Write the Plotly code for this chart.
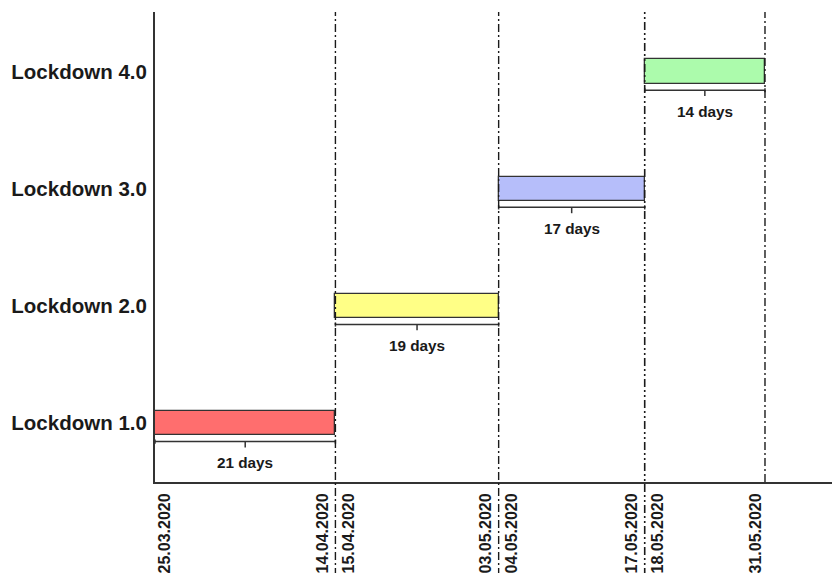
import plotly.graph_objects as go

# ---- data ----
phases = ["Lockdown 1.0", "Lockdown 2.0", "Lockdown 3.0", "Lockdown 4.0"]
durations = [21, 19, 17, 14]
start_dates = ["25.03.2020", "15.04.2020", "04.05.2020", "18.05.2020"]
end_dates = ["14.04.2020", "03.05.2020", "17.05.2020", "31.05.2020"]
duration_labels = ["21 days", "19 days", "17 days", "14 days"]
colors = ["#FF6E6E", "#FFFF86", "#B6BEFA", "#ACFBAC"]

# cumulative positions (day scale)
starts = []
acc = 0
for d in durations:
    starts.append(acc)
    acc += d
ends = [s + d for s, d in zip(starts, durations)]
ypos = list(range(len(phases)))

PX_PER_DAY = 8.59
XMAX = 78.8
FONT = "Liberation Sans, Arial, sans-serif"
INK = "#1a1a1a"

fig = go.Figure()

# bars
fig.add_trace(go.Bar(
    orientation="h",
    y=ypos,
    x=durations,
    base=starts,
    width=0.205,
    marker=dict(color=colors, line=dict(color="#333333", width=1.3)),
    showlegend=False,
    hoverinfo="skip",
))

# brackets under each bar
for i, (s, e) in enumerate(zip(starts, ends)):
    yb = ypos[i] - 0.16
    m = (s + e) / 2
    fig.add_trace(go.Scatter(
        x=[s, s, None, s, e, None, e, e, None, m, m],
        y=[yb + 0.018, yb - 0.018, None, yb, yb, None, yb + 0.018, yb - 0.018, None, yb, yb - 0.05],
        mode="lines",
        line=dict(color="#333333", width=1.5),
        showlegend=False,
        hoverinfo="skip",
    ))
    fig.add_annotation(
        x=m, y=ypos[i], yshift=-40, text=duration_labels[i], showarrow=False,
        font=dict(family=FONT, size=15.3, color=INK, weight="bold"),
        xanchor="center", yanchor="middle",
    )

# vertical dash-dot boundary lines
boundaries = ends
for j, b in enumerate(boundaries):
    internal = j < len(boundaries) - 1
    dash = "8px,3px,2px,3px,2px,3px" if j == 2 else "8px,3px,2px,3px"
    fig.add_shape(
        type="line", xref="x", yref="paper",
        x0=b, x1=b, y0=(-0.2 if internal else 0), y1=1,
        line=dict(color=INK, width=1.6 if j == 2 else 1.4, dash=dash),
        layer="above",
    )

# x tick labels (two per internal boundary, offset either side of the line)
tickvals = []
ticktext = []
for j, (s, d) in enumerate(zip(starts, start_dates)):
    off = 10 if j == 0 else 13
    tickvals.append(s + off / PX_PER_DAY)
    ticktext.append(d)
for j, (e, d) in enumerate(zip(ends, end_dates)):
    off = 9 if j == len(ends) - 1 else 13
    tickvals.append(e - off / PX_PER_DAY)
    ticktext.append(d)

fig.update_layout(
    width=832, height=573,
    margin=dict(l=155, r=0, t=12, b=91, autoexpand=False),
    plot_bgcolor="white", paper_bgcolor="white",
    bargap=0,
    xaxis=dict(
        range=[0, XMAX],
        tickvals=tickvals, ticktext=ticktext,
        tickangle=-90,
        tickfont=dict(family=FONT, size=16, color=INK, weight="bold"),
        showline=True, linecolor="#333333", linewidth=2,
        showgrid=False, zeroline=False, ticks="",
        ticklabelstandoff=3,
    ),
    yaxis=dict(
        range=[-0.505, 3.508],
        tickvals=ypos, ticktext=phases,
        tickfont=dict(family=FONT, size=20.5, color=INK, weight="bold"),
        showline=True, linecolor="#333333", linewidth=2,
        showgrid=False, zeroline=False, ticks="",
        ticklabelstandoff=2,
    ),
)

fig.write_html(
    "out.html",
    config={"displayModeBar": False},
    post_script="document.body.style.margin='0';document.body.style.overflow='hidden';",
)
